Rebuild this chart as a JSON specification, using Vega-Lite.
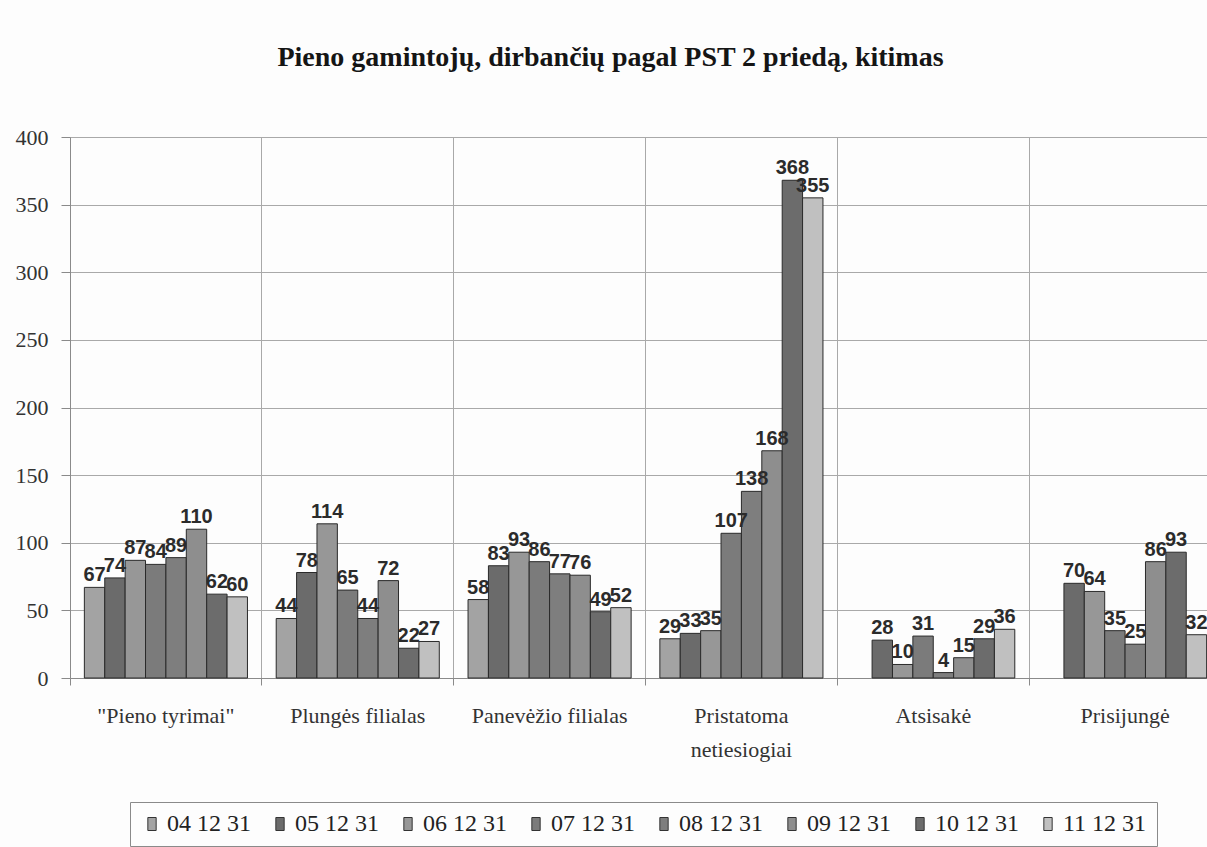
{
  "$schema": "https://vega.github.io/schema/vega-lite/v6.json",
  "width": 1137,
  "height": 541,
  "autosize": "none",
  "padding": {"left": 70, "top": 137, "right": 0, "bottom": 169},
  "background": "#fdfdfd",
  "title": {
    "text": "Pieno gamintojų, dirbančių pagal PST 2 priedą, kitimas",
    "font": "Liberation Serif",
    "fontSize": 28,
    "fontWeight": "bold",
    "color": "#151515",
    "offset": 54,
    "dx": -28
  },
  "data": {
    "values": [
      {"cat": "\"Pieno tyrimai\"", "ser": "04 12 31", "v": 67},
      {"cat": "\"Pieno tyrimai\"", "ser": "05 12 31", "v": 74},
      {"cat": "\"Pieno tyrimai\"", "ser": "06 12 31", "v": 87},
      {"cat": "\"Pieno tyrimai\"", "ser": "07 12 31", "v": 84},
      {"cat": "\"Pieno tyrimai\"", "ser": "08 12 31", "v": 89},
      {"cat": "\"Pieno tyrimai\"", "ser": "09 12 31", "v": 110},
      {"cat": "\"Pieno tyrimai\"", "ser": "10 12 31", "v": 62},
      {"cat": "\"Pieno tyrimai\"", "ser": "11 12 31", "v": 60},
      {"cat": "Plungės filialas", "ser": "04 12 31", "v": 44},
      {"cat": "Plungės filialas", "ser": "05 12 31", "v": 78},
      {"cat": "Plungės filialas", "ser": "06 12 31", "v": 114},
      {"cat": "Plungės filialas", "ser": "07 12 31", "v": 65},
      {"cat": "Plungės filialas", "ser": "08 12 31", "v": 44},
      {"cat": "Plungės filialas", "ser": "09 12 31", "v": 72},
      {"cat": "Plungės filialas", "ser": "10 12 31", "v": 22},
      {"cat": "Plungės filialas", "ser": "11 12 31", "v": 27},
      {"cat": "Panevėžio filialas", "ser": "04 12 31", "v": 58},
      {"cat": "Panevėžio filialas", "ser": "05 12 31", "v": 83},
      {"cat": "Panevėžio filialas", "ser": "06 12 31", "v": 93},
      {"cat": "Panevėžio filialas", "ser": "07 12 31", "v": 86},
      {"cat": "Panevėžio filialas", "ser": "08 12 31", "v": 77},
      {"cat": "Panevėžio filialas", "ser": "09 12 31", "v": 76},
      {"cat": "Panevėžio filialas", "ser": "10 12 31", "v": 49},
      {"cat": "Panevėžio filialas", "ser": "11 12 31", "v": 52},
      {"cat": "Pristatoma netiesiogiai", "ser": "04 12 31", "v": 29},
      {"cat": "Pristatoma netiesiogiai", "ser": "05 12 31", "v": 33},
      {"cat": "Pristatoma netiesiogiai", "ser": "06 12 31", "v": 35},
      {"cat": "Pristatoma netiesiogiai", "ser": "07 12 31", "v": 107},
      {"cat": "Pristatoma netiesiogiai", "ser": "08 12 31", "v": 138},
      {"cat": "Pristatoma netiesiogiai", "ser": "09 12 31", "v": 168},
      {"cat": "Pristatoma netiesiogiai", "ser": "10 12 31", "v": 368},
      {"cat": "Pristatoma netiesiogiai", "ser": "11 12 31", "v": 355},
      {"cat": "Atsisakė", "ser": "05 12 31", "v": 28},
      {"cat": "Atsisakė", "ser": "06 12 31", "v": 10},
      {"cat": "Atsisakė", "ser": "07 12 31", "v": 31},
      {"cat": "Atsisakė", "ser": "08 12 31", "v": 4},
      {"cat": "Atsisakė", "ser": "09 12 31", "v": 15},
      {"cat": "Atsisakė", "ser": "10 12 31", "v": 29},
      {"cat": "Atsisakė", "ser": "11 12 31", "v": 36},
      {"cat": "Prisijungė", "ser": "05 12 31", "v": 70},
      {"cat": "Prisijungė", "ser": "06 12 31", "v": 64},
      {"cat": "Prisijungė", "ser": "07 12 31", "v": 35},
      {"cat": "Prisijungė", "ser": "08 12 31", "v": 25},
      {"cat": "Prisijungė", "ser": "09 12 31", "v": 86},
      {"cat": "Prisijungė", "ser": "10 12 31", "v": 93},
      {"cat": "Prisijungė", "ser": "11 12 31", "v": 32}
    ]
  },
  "encoding": {
    "x": {
      "field": "cat",
      "type": "nominal",
      "sort": ["\"Pieno tyrimai\"", "Plungės filialas", "Panevėžio filialas", "Pristatoma netiesiogiai", "Atsisakė", "Prisijungė"],
      "scale": {"range": [0, 1151], "paddingInner": 0, "paddingOuter": 0},
      "axis": {
        "title": null,
        "bandPosition": 0,
        "grid": true,
        "gridColor": "#a9a9a9",
        "gridWidth": 1,
        "domainColor": "#8a8a8a",
        "tickColor": "#8a8a8a",
        "tickSize": 7,
        "labelAngle": 0,
        "labelAlign": "center",
        "labelFont": "Liberation Serif",
        "labelFontSize": 22,
        "labelColor": "#333333",
        "labelPadding": 20,
        "labelLineHeight": 34,
        "labelOverlap": false,
        "labelBound": false,
        "labelExpr": "datum.value == 'Pristatoma netiesiogiai' ? ['Pristatoma', 'netiesiogiai'] : datum.value"
      }
    },
    "xOffset": {
      "field": "ser",
      "type": "nominal",
      "scale": {"paddingInner": 0, "paddingOuter": 0.705}
    },
    "y": {
      "field": "v",
      "type": "quantitative",
      "scale": {"domain": [0, 400], "nice": false},
      "axis": {
        "title": null,
        "values": [0, 50, 100, 150, 200, 250, 300, 350, 400],
        "grid": true,
        "gridColor": "#a9a9a9",
        "gridWidth": 1,
        "domainColor": "#8a8a8a",
        "tickColor": "#8a8a8a",
        "tickSize": 9,
        "labelPadding": 13,
        "labelFont": "Liberation Serif",
        "labelFontSize": 22,
        "labelColor": "#333333"
      }
    }
  },
  "layer": [
    {
      "mark": {"type": "bar", "stroke": "#2a2a2a", "strokeWidth": 1},
      "encoding": {
        "color": {
          "field": "ser",
          "type": "nominal",
          "scale": {
            "domain": ["04 12 31", "05 12 31", "06 12 31", "07 12 31", "08 12 31", "09 12 31", "10 12 31", "11 12 31"],
            "range": ["#a3a3a3", "#6b6b6b", "#979797", "#7b7b7b", "#7e7e7e", "#8e8e8e", "#6c6c6c", "#c0c0c0"]
          },
          "legend": {
            "orient": "none",
            "legendX": 60,
            "legendY": 665,
            "direction": "horizontal",
            "title": null,
            "strokeColor": "#8a8a8a",
            "fillColor": "#fdfdfd",
            "padding": 10,
            "symbolType": "M-0.64,-1H0.64V1H-0.64Z",
            "symbolSize": 169,
            "symbolStrokeColor": "#333333",
            "symbolStrokeWidth": 1,
            "labelFont": "Liberation Serif",
            "labelFontSize": 24,
            "labelColor": "#222222",
            "labelOffset": 3,
            "columnPadding": 17
          }
        }
      }
    },
    {
      "mark": {"type": "text", "font": "Liberation Sans", "fontWeight": "bold", "fontSize": 20, "baseline": "alphabetic", "dy": -6, "color": "#2b2b2b"},
      "encoding": {"text": {"field": "v", "type": "quantitative"}}
    }
  ],
  "config": {"view": {"stroke": null}}
}
